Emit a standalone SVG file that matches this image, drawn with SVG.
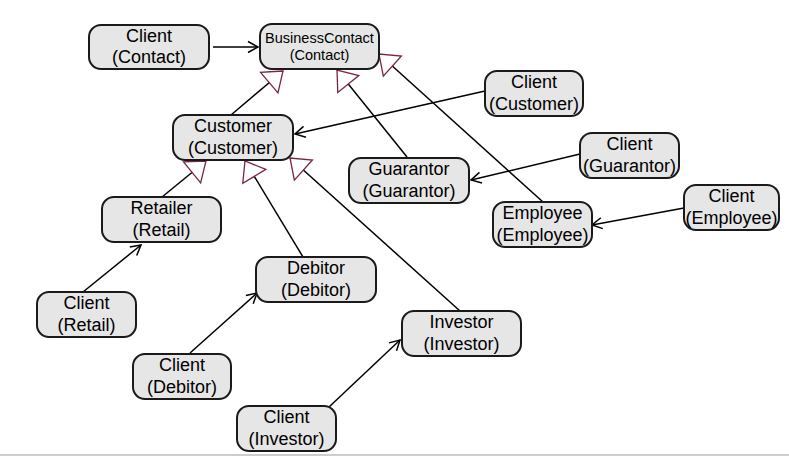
<svg xmlns="http://www.w3.org/2000/svg" width="789" height="456" viewBox="0 0 789 456">
<style>
.node rect{fill:#e6e6e6;stroke:#1a1a1a;stroke-width:2}
.node text{font-family:"Liberation Sans",Arial,sans-serif;font-size:18px;fill:#000;text-anchor:middle}
.node text.small{font-size:14.5px}
.conn path{fill:none;stroke:#000;stroke-width:1.5}
.conn .gen{marker-end:url(#tri)}
.conn .assoc{marker-end:url(#arr)}
</style>
<defs>
<marker id="tri" markerUnits="userSpaceOnUse" viewBox="-20 -15 22 30" markerWidth="22" markerHeight="30" refX="0" refY="0" orient="auto" overflow="visible">
<path d="M0,0 L-18,-13.5 L-18,13.5 Z" fill="#fff" stroke="#7b2346" stroke-width="1.3"/>
</marker>
<marker id="arr" markerUnits="userSpaceOnUse" viewBox="-12 -7 14 14" markerWidth="14" markerHeight="14" refX="0" refY="0" orient="auto" overflow="visible">
<path d="M-10,-5.5 L0,0 L-10,5.5" fill="none" stroke="#000" stroke-width="1.5"/>
</marker>
</defs>
<rect width="789" height="456" fill="#fff"/>
<line x1="0" y1="455" x2="789" y2="455" stroke="#bdbdbd" stroke-width="1.5"/>
<g id="connectors" class="conn">
<path class="gen" d="M231,115 L283,71"/>
<path class="gen" d="M407,157 L337,70"/>
<path class="gen" d="M543,202 L379,54"/>
<path class="gen" d="M162,197 L206,161"/>
<path class="gen" d="M303,257 L245,161"/>
<path class="gen" d="M460,311 L290,158"/>
<path class="assoc" d="M213,47 L258,47"/>
<path class="assoc" d="M485,91 L295,134"/>
<path class="assoc" d="M580,154 L471,180"/>
<path class="assoc" d="M684,208 L592,225"/>
<path class="assoc" d="M83,292 L141,245"/>
<path class="assoc" d="M190,353 L257,293"/>
<path class="assoc" d="M329,407 L400,340"/>
</g>
<g id="client-contact" class="node"><rect x="89" y="25" width="120" height="44" rx="12"/><text x="149" y="42">Client</text><text x="149" y="63">(Contact)</text></g>
<g id="business-contact" class="node"><rect x="260" y="24" width="119" height="45" rx="12"/><text class="small" x="319.5" y="43">BusinessContact</text><text class="small" x="319.5" y="60">(Contact)</text></g>
<g id="customer" class="node"><rect x="173" y="115" width="120" height="45" rx="12"/><text x="233" y="132">Customer</text><text x="233" y="154">(Customer)</text></g>
<g id="client-customer" class="node"><rect x="485" y="71" width="98" height="45" rx="12"/><text x="534" y="88">Client</text><text x="534" y="110">(Customer)</text></g>
<g id="guarantor" class="node"><rect x="349" y="158" width="120" height="45" rx="12"/><text x="409" y="175">Guarantor</text><text x="409" y="197">(Guarantor)</text></g>
<g id="client-guarantor" class="node"><rect x="580" y="133" width="99" height="45" rx="12"/><text x="629.5" y="150">Client</text><text x="629.5" y="172">(Guarantor)</text></g>
<g id="employee" class="node"><rect x="493" y="202" width="99" height="45" rx="12"/><text x="542.5" y="219">Employee</text><text x="542.5" y="241">(Employee)</text></g>
<g id="client-employee" class="node"><rect x="684" y="185" width="95" height="45" rx="12"/><text x="731.5" y="202">Client</text><text x="731.5" y="224">(Employee)</text></g>
<g id="retailer" class="node"><rect x="102" y="197" width="119" height="45" rx="12"/><text x="161.5" y="214">Retailer</text><text x="161.5" y="236">(Retail)</text></g>
<g id="client-retail" class="node"><rect x="37" y="292" width="99" height="45" rx="12"/><text x="86.5" y="309">Client</text><text x="86.5" y="331">(Retail)</text></g>
<g id="debitor" class="node"><rect x="256" y="257" width="120" height="45" rx="12"/><text x="316" y="274">Debitor</text><text x="316" y="296">(Debitor)</text></g>
<g id="client-debitor" class="node"><rect x="133" y="354" width="98" height="45" rx="12"/><text x="182" y="371">Client</text><text x="182" y="393">(Debitor)</text></g>
<g id="investor" class="node"><rect x="402" y="311" width="119" height="45" rx="12"/><text x="461.5" y="328">Investor</text><text x="461.5" y="350">(Investor)</text></g>
<g id="client-investor" class="node"><rect x="237" y="406" width="99" height="45" rx="12"/><text x="286.5" y="423">Client</text><text x="286.5" y="445">(Investor)</text></g>
</svg>
